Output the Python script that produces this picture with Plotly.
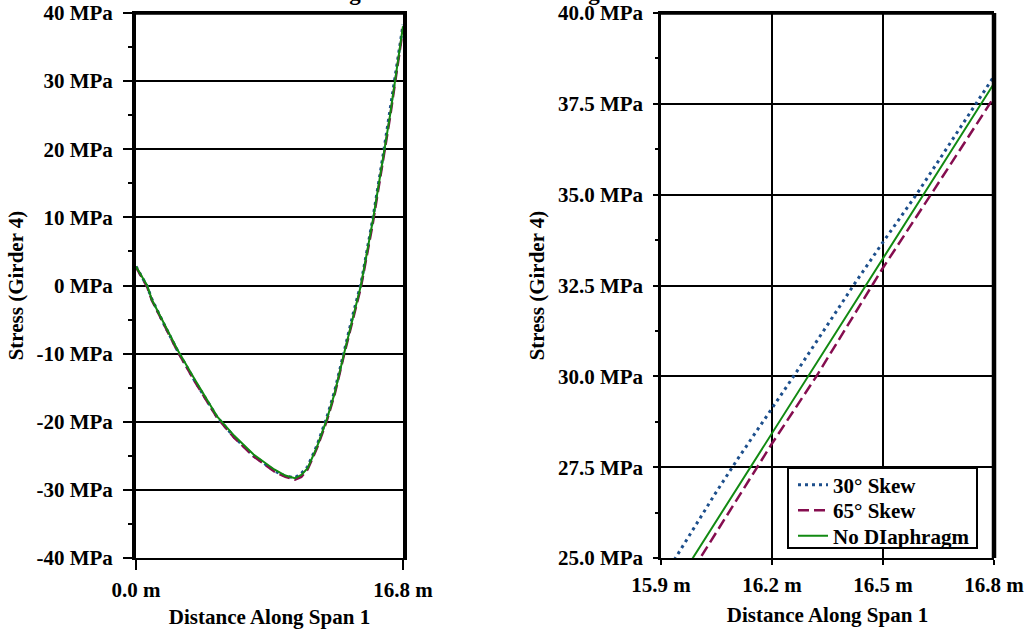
import plotly.graph_objects as go

# ---- data ----
dist_30 = [0, 0.7, 1.0, 1.7, 2.6, 3.7, 5.1, 6.2, 7.4, 8.7, 9.4, 10.0, 10.4, 10.8, 11.4, 12.0,
           12.5, 13.1, 13.7, 14.15, 14.9, 15.6, 15.939, 16.047, 16.105, 16.204, 16.263,
           16.42, 16.497, 16.592, 16.727, 16.8]
stress_30 = [2.8, -0.1, -2.0, -5.4, -9.5, -14.0, -19.3, -22.3, -25.0, -27.2, -28.0, -28.2,
             -27.6, -26.6, -23.4, -19.4, -15.5, -9.6, -3.8, 0.2, 9.8, 19.9, 25.0, 26.78,
             27.69, 29.16, 30.07, 32.5, 33.65, 35.03, 37.14, 38.26]

dist_65 = [0, 0.7, 1.0, 1.7, 2.6, 3.7, 5.1, 6.2, 7.4, 8.7, 9.4, 10.0, 10.4, 10.8, 11.4, 12.0,
           12.5, 13.1, 13.7, 14.15, 14.9, 15.6, 16.006, 16.2, 16.32, 16.497, 16.637, 16.8]
stress_65 = [2.7, -0.2, -2.2, -5.5, -9.6, -14.1, -19.4, -22.4, -25.1, -27.3, -28.1, -28.5,
             -28.1, -27.0, -23.8, -19.9, -16.0, -10.1, -4.3, -0.3, 9.1, 18.9, 25.0, 28.15,
             30.0, 32.94, 35.12, 37.68]

dist_nd = [0, 0.7, 1.0, 1.7, 2.6, 3.7, 5.1, 6.2, 7.4, 8.7, 9.4, 10.0, 10.4, 10.8, 11.4, 12.0,
           12.5, 13.1, 13.7, 14.15, 14.9, 15.6, 15.986, 16.8]
stress_nd = [2.8, 0.0, -2.1, -5.4, -9.4, -13.8, -19.2, -22.1, -24.8, -27.0, -27.9, -28.3,
             -27.8, -26.8, -23.6, -19.7, -15.8, -9.9, -4.0, 0.0, 9.5, 19.3, 25.0, 38.06]

series_names = ["30° Skew", "65° Skew", "No DIaphragm"]
left_xticks = [0, 16.8]
left_xticktext = ["0.0 m", "16.8 m"]
left_yticks = [-40, -30, -20, -10, 0, 10, 20, 30, 40]
left_yticktext = ["-40 MPa", "-30 MPa", "-20 MPa", "-10 MPa", "0 MPa",
                  "10 MPa", "20 MPa", "30 MPa", "40 MPa"]
right_xticks = [15.9, 16.2, 16.5, 16.8]
right_xticktext = ["15.9 m", "16.2 m", "16.5 m", "16.8 m"]
right_yticks = [25.0, 27.5, 30.0, 32.5, 35.0, 37.5, 40.0]
right_yticktext = ["25.0 MPa", "27.5 MPa", "30.0 MPa", "32.5 MPa",
                   "35.0 MPa", "37.5 MPa", "40.0 MPa"]

title_text = "Strength I Limit State Loading Condition"
y_title = "Stress (Girder 4)"
x_title = "Distance Along Span 1"

# ---- styles ----
FONT = "Liberation Serif, Times New Roman, serif"
BLUE = "#1d4f8c"
MAROON = "#850d4f"
GREEN = "#128a12"
styles = [
    dict(color=BLUE, width=3, dash="3px,4px"),
    dict(color=MAROON, width=2.5, dash="11px,5px"),
    dict(color=GREEN, width=2, dash="solid"),
]
data = [(dist_30, stress_30), (dist_65, stress_65), (dist_nd, stress_nd)]
legend_ids = ["legend", "legend2", "legend3"]

fig = go.Figure()
for (xs, ys), name, st in zip(data, series_names, styles):
    fig.add_trace(go.Scatter(x=xs, y=ys, mode="lines", name=name, line=st,
                             showlegend=False, xaxis="x", yaxis="y"))
for (xs, ys), name, st, lg in zip(data, series_names, styles, legend_ids):
    fig.add_trace(go.Scatter(x=xs, y=ys, mode="lines", name=name, line=st,
                             showlegend=True, legend=lg, xaxis="x2", yaxis="y2"))

W, H = 1032, 635
x1d = [136 / W, 403 / W]
x2d = [661 / W, 994 / W]
yd = [1 - 558 / H, 1 - 13 / H]

tickfont = dict(family=FONT, size=21, color="black", weight="bold")
titlefont = dict(family=FONT, size=21, color="black", weight="bold")
legfont = dict(family=FONT, size=21, color="black", weight="bold")

# legend box (pixels) and row centres
LEG_BOX = (788, 468, 977, 548)
LEG_ITEMS_X = 793
row_y = [485, 510.5, 536]

legends = {}
for lg, ry in zip(legend_ids, row_y):
    legends[lg] = dict(x=LEG_ITEMS_X / W, y=1 - ry / H, xanchor="left", yanchor="middle",
                       bgcolor="rgba(0,0,0,0)", borderwidth=0, font=legfont,
                       itemwidth=30)

fig.update_layout(
    width=W, height=H,
    margin=dict(l=0, r=0, t=0, b=0, autoexpand=False),
    paper_bgcolor="white", plot_bgcolor="white",
    font=dict(family=FONT, color="black"),
    xaxis=dict(domain=x1d, range=[0, 16.8], tickvals=left_xticks, ticktext=left_xticktext,
               ticks="outside", ticklen=10, tickwidth=2, tickcolor="black",
               showgrid=False, zeroline=False, showline=True, linewidth=2, linecolor="black",
               mirror=True, tickfont=tickfont, ticklabelstandoff=2, automargin=False,
               title=dict(text=x_title, font=titlefont, standoff=8), anchor="y"),
    yaxis=dict(domain=yd, range=[-40, 40], tickvals=left_yticks, ticktext=left_yticktext,
               ticks="outside", ticklen=9, tickwidth=2, tickcolor="black",
               showgrid=True, gridcolor="black", gridwidth=2, zeroline=False,
               showline=True, linewidth=4, linecolor="black", mirror=True,
               minor=dict(dtick=5, tick0=5, ticks="outside", ticklen=4, tickwidth=2,
                          tickcolor="black", showgrid=False),
               tickfont=tickfont, ticklabelstandoff=6, automargin=False,
               title=dict(text=y_title, font=titlefont, standoff=8), anchor="x"),
    xaxis2=dict(domain=x2d, range=[15.9, 16.8], tickvals=right_xticks, ticktext=right_xticktext,
                ticks="outside", ticklen=5, tickwidth=2, tickcolor="black",
                showgrid=True, gridcolor="black", gridwidth=2, zeroline=False,
                showline=True, linewidth=2, linecolor="black", mirror=True,
                tickfont=tickfont, ticklabelstandoff=2, automargin=False,
                title=dict(text=x_title, font=titlefont, standoff=11), anchor="y2"),
    yaxis2=dict(domain=yd, range=[25, 40], tickvals=right_yticks, ticktext=right_yticktext,
                ticks="outside", ticklen=5, tickwidth=2, tickcolor="black",
                showgrid=True, gridcolor="black", gridwidth=2, zeroline=False,
                showline=True, linewidth=2.5, linecolor="black", mirror=False,
                minor=dict(dtick=1.25, tick0=25, ticks="outside", ticklen=3, tickwidth=2,
                           tickcolor="black", showgrid=False),
                tickfont=tickfont, ticklabelstandoff=6, automargin=False,
                title=dict(text=y_title, font=titlefont, standoff=8), anchor="x2"),
    showlegend=True,
    **legends,
)

# heavier frame edges
fig.add_shape(type="line", xref="paper", yref="paper", x0=x1d[0], x1=x1d[1], y0=yd[1], y1=yd[1],
              line=dict(color="black", width=3.5))
fig.add_shape(type="line", xref="paper", yref="paper", x0=x2d[0], x1=x2d[1], y0=yd[1], y1=yd[1],
              line=dict(color="black", width=3.5))
fig.add_shape(type="line", xref="paper", yref="paper", x0=x2d[1], x1=x2d[1], y0=yd[0], y1=yd[1],
              line=dict(color="black", width=4.5))
# legend frame
fig.add_shape(type="rect", xref="paper", yref="paper", layer="above",
              x0=LEG_BOX[0] / W, x1=LEG_BOX[2] / W, y0=1 - LEG_BOX[3] / H, y1=1 - LEG_BOX[1] / H,
              line=dict(color="black", width=2), fillcolor="white")

fig.add_annotation(text=title_text, xref="paper", yref="paper", x=500 / W, y=1.0,
                   xanchor="center", yanchor="bottom", yshift=-7, showarrow=False,
                   font=dict(family=FONT, size=23, color="black", weight="bold"))

fig.write_html("out.html", config={"displayModeBar": False},
               post_script="document.body.style.margin='0';")
